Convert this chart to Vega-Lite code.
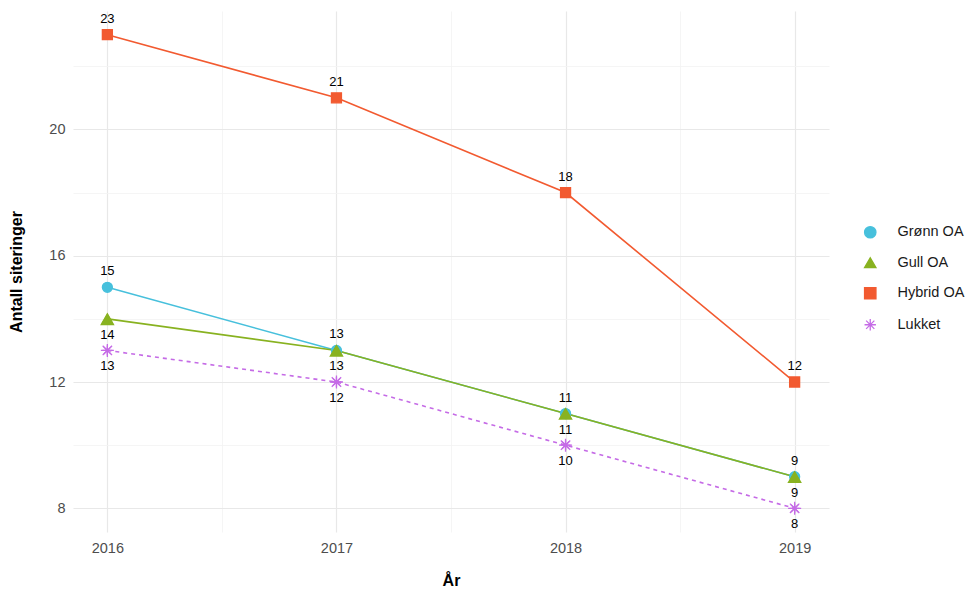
{
  "$schema": "https://vega.github.io/schema/vega-lite/v6.json",
  "width": 756,
  "height": 521,
  "autosize": {"type": "none"},
  "padding": {"left": 73, "top": 11, "right": 149, "bottom": 59},
  "background": "white",
  "config": {
    "font": "Liberation Sans",
    "view": {"stroke": null},
    "axis": {"domain": false, "ticks": false, "labelFont": "Liberation Sans", "titleFont": "Liberation Sans"},
    "legend": {"labelFont": "Liberation Sans", "labelFontSize": 14.5, "labelColor": "#1a1a1a", "labelOffset": 20, "rowPadding": 13.5, "symbolSize": 130, "symbolStrokeWidth": 1.3}
  },
  "data": {
    "values": [
      {"year": 2016, "series": "Grønn OA", "value": 15},
      {"year": 2017, "series": "Grønn OA", "value": 13},
      {"year": 2018, "series": "Grønn OA", "value": 11},
      {"year": 2019, "series": "Grønn OA", "value": 9},
      {"year": 2016, "series": "Gull OA", "value": 14},
      {"year": 2017, "series": "Gull OA", "value": 13},
      {"year": 2018, "series": "Gull OA", "value": 11},
      {"year": 2019, "series": "Gull OA", "value": 9},
      {"year": 2016, "series": "Hybrid OA", "value": 23},
      {"year": 2017, "series": "Hybrid OA", "value": 21},
      {"year": 2018, "series": "Hybrid OA", "value": 18},
      {"year": 2019, "series": "Hybrid OA", "value": 12},
      {"year": 2016, "series": "Lukket", "value": 13},
      {"year": 2017, "series": "Lukket", "value": 12},
      {"year": 2018, "series": "Lukket", "value": 10},
      {"year": 2019, "series": "Lukket", "value": 8}
    ]
  },
  "encoding": {
    "x": {
      "field": "year", "type": "quantitative",
      "scale": {"domain": [2015.85, 2019.15], "nice": false, "zero": false},
      "axis": {
        "values": [2016, 2016.5, 2017, 2017.5, 2018, 2018.5, 2019],
        "labelExpr": "datum.value % 1 == 0 ? format(datum.value, 'd') : ''",
        "labelFontSize": 14.5, "labelColor": "#4d4d4d", "labelPadding": 9,
        "title": "År", "titleFontSize": 16, "titleFontWeight": "bold", "titleColor": "#000000", "titlePadding": 18,
        "gridColor": {"condition": {"test": "datum.value % 1 == 0", "value": "#e8e8e8"}, "value": "#f2f2f2"},
        "gridWidth": {"condition": {"test": "datum.value % 1 == 0", "value": 1.2}, "value": 0.8}
      }
    },
    "y": {
      "field": "value", "type": "quantitative",
      "scale": {"domain": [7.25, 23.75], "nice": false, "zero": false},
      "axis": {
        "values": [8, 10, 12, 14, 16, 18, 20, 22],
        "labelExpr": "datum.value % 4 == 0 ? format(datum.value, 'd') : ''",
        "labelFontSize": 14.5, "labelColor": "#4d4d4d", "labelPadding": 8,
        "title": "Antall siteringer", "titleFontSize": 16, "titleFontWeight": "bold", "titleColor": "#000000", "titlePadding": 24,
        "gridColor": {"condition": {"test": "datum.value % 4 == 0", "value": "#e8e8e8"}, "value": "#f2f2f2"},
        "gridWidth": {"condition": {"test": "datum.value % 4 == 0", "value": 1.2}, "value": 0.8}
      }
    }
  },
  "layer": [
    {
      "transform": [{"filter": "datum.series == 'Grønn OA'"}],
      "mark": {"type": "line", "strokeWidth": 1.6, "color": "#47C0DC"},
      "encoding": {}
    },
    {
      "transform": [{"filter": "datum.series == 'Gull OA'"}],
      "mark": {"type": "line", "strokeWidth": 1.6, "color": "#88B220"},
      "encoding": {}
    },
    {
      "transform": [{"filter": "datum.series == 'Hybrid OA'"}],
      "mark": {"type": "line", "strokeWidth": 1.6, "color": "#F25A30"},
      "encoding": {}
    },
    {
      "transform": [{"filter": "datum.series == 'Lukket'"}],
      "mark": {"type": "line", "strokeWidth": 1.6, "color": "#C56BE6", "strokeDash": [4, 4]},
      "encoding": {}
    },
    {
      "mark": {"type": "point", "filled": false, "strokeWidth": 1.3, "opacity": 1, "size": 100},
      "encoding": {
        "color": {
          "field": "series", "type": "nominal",
          "scale": {"domain": ["Grønn OA", "Gull OA", "Hybrid OA", "Lukket"], "range": ["#47C0DC", "#88B220", "#F25A30", "#C56BE6"]},
          "legend": {"title": null, "orient": "none", "legendX": 790, "legendY": 214}
        },
        "fill": {
          "field": "series", "type": "nominal",
          "scale": {"domain": ["Grønn OA", "Gull OA", "Hybrid OA", "Lukket"], "range": ["#47C0DC", "#88B220", "#F25A30", "#C56BE6"]},
          "legend": {"title": null, "orient": "none", "legendX": 790, "legendY": 214}
        },
        "shape": {
          "field": "series", "type": "nominal",
          "scale": {"domain": ["Grønn OA", "Gull OA", "Hybrid OA", "Lukket"], "range": ["circle", "triangle-up", "square", "M0,-1L0,1M-1,0L1,0M-0.72,-0.72L0.72,0.72M-0.72,0.72L0.72,-0.72"]},
          "legend": {"title": null, "orient": "none", "legendX": 790, "legendY": 214}
        }
      }
    },
    {
      "transform": [{"filter": "datum.series == 'Gull OA'"}],
      "mark": {"type": "point", "filled": true, "opacity": 1, "size": 210, "shape": "triangle-up", "color": "#88B220"},
      "encoding": {}
    },
    {
      "transform": [{"filter": "datum.series == 'Lukket'"}],
      "mark": {"type": "point", "filled": false, "strokeWidth": 1.3, "opacity": 1, "size": 170,
               "shape": "M0,-1L0,1M-1,0L1,0M-0.72,-0.72L0.72,0.72M-0.72,0.72L0.72,-0.72", "color": "#C56BE6"},
      "encoding": {}
    },
    {
      "transform": [{"filter": "datum.series == 'Grønn OA' || datum.series == 'Hybrid OA'"}],
      "mark": {"type": "text", "dy": -16, "fontSize": 13, "color": "#000000"},
      "encoding": {"text": {"field": "value", "type": "quantitative"}}
    },
    {
      "transform": [{"filter": "datum.series == 'Gull OA' || datum.series == 'Lukket'"}],
      "mark": {"type": "text", "dy": 16, "fontSize": 13, "color": "#000000"},
      "encoding": {"text": {"field": "value", "type": "quantitative"}}
    }
  ]
}
